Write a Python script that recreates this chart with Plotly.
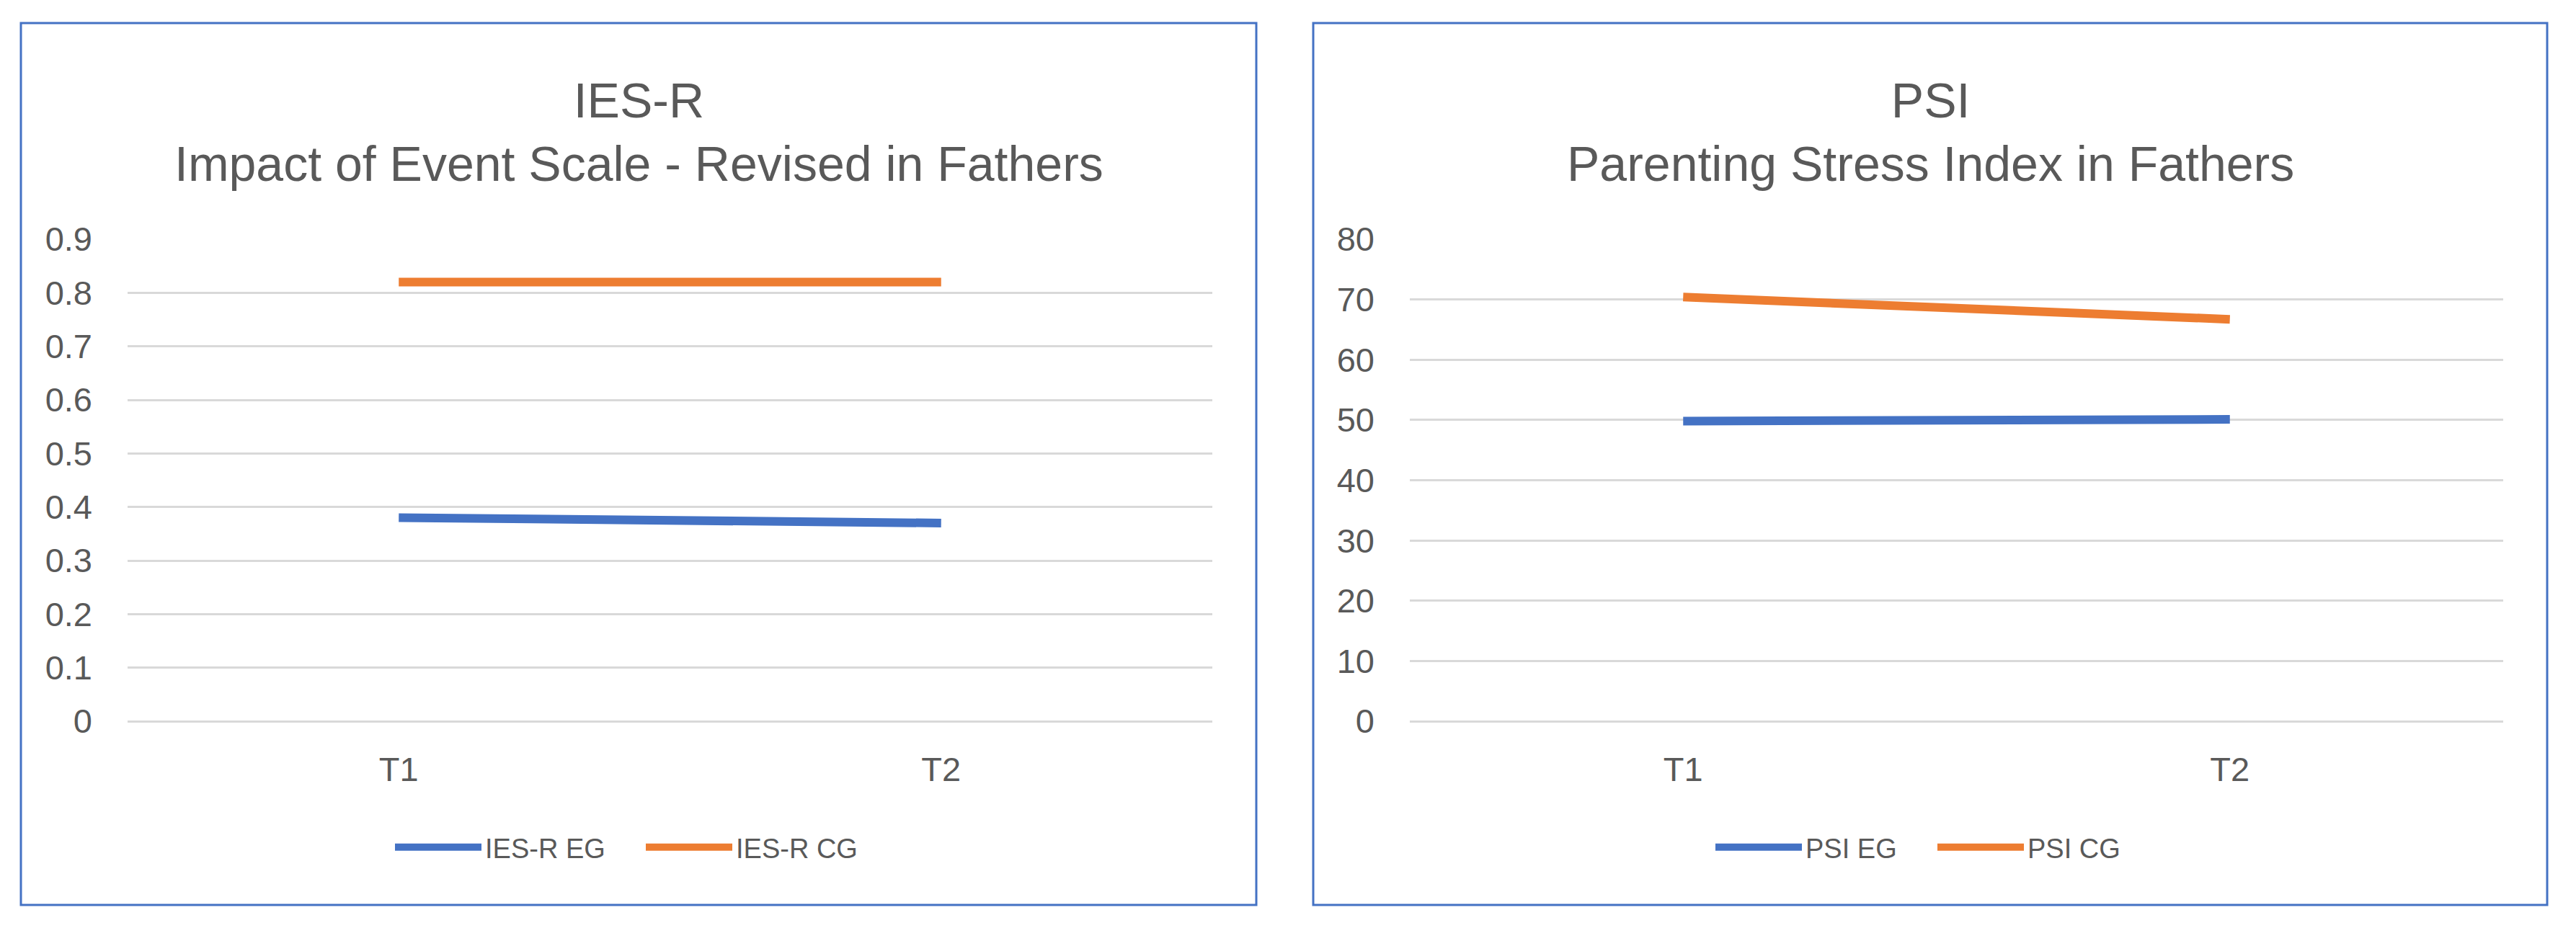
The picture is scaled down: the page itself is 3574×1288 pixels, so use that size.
import plotly.graph_objects as go

# ---- data ----
categories = ["T1", "T2"]

ies_title_1 = "IES-R"
ies_title_2 = "Impact of Event Scale - Revised in Fathers"
ies_eg_name = "IES-R EG"
ies_cg_name = "IES-R CG"
ies_eg = [0.38, 0.37]
ies_cg = [0.82, 0.82]
ies_ticks = [0, 0.1, 0.2, 0.3, 0.4, 0.5, 0.6, 0.7, 0.8, 0.9]
ies_ticktext = ["0", "0.1", "0.2", "0.3", "0.4", "0.5", "0.6", "0.7", "0.8", "0.9"]

psi_title_1 = "PSI"
psi_title_2 = "Parenting Stress Index in Fathers"
psi_eg_name = "PSI EG"
psi_cg_name = "PSI CG"
psi_eg = [49.8, 50.1]
psi_cg = [70.4, 66.7]
psi_ticks = [0, 10, 20, 30, 40, 50, 60, 70, 80]

# ---- styling ----
PAGE_W, PAGE_H = 3574, 1288
OFF = 8  # default body margin of the html page
W, H = PAGE_W - 2 * OFF, PAGE_H - 2 * OFF
FONT = "Liberation Sans, Arial, sans-serif"
TXT = "#595959"
GRID = "#D9D9D9"
BLUE = "#4472C4"
ORANGE = "#ED7D31"
LW = 12


def px(x):
    return (x - OFF) / W


def py(y):
    return 1 - (y - OFF) / H


fig = go.Figure()

fig.add_trace(go.Scatter(x=categories, y=ies_eg, name=ies_eg_name, mode="lines",
                         line=dict(color=BLUE, width=LW), xaxis="x", yaxis="y",
                         legend="legend"))
fig.add_trace(go.Scatter(x=categories, y=ies_cg, name=ies_cg_name, mode="lines",
                         line=dict(color=ORANGE, width=LW), xaxis="x", yaxis="y",
                         legend="legend"))
fig.add_trace(go.Scatter(x=categories, y=psi_eg, name=psi_eg_name, mode="lines",
                         line=dict(color=BLUE, width=LW), xaxis="x2", yaxis="y2",
                         legend="legend2"))
fig.add_trace(go.Scatter(x=categories, y=psi_cg, name=psi_cg_name, mode="lines",
                         line=dict(color=ORANGE, width=LW), xaxis="x2", yaxis="y2",
                         legend="legend2"))

ydom = [py(1001), py(332)]
common_x = dict(type="category", range=[-0.5, 1.5], showgrid=False, zeroline=False,
                showline=False, ticks="outside", ticklen=26, tickcolor="rgba(0,0,0,0)",
                tickfont=dict(family=FONT, size=47, color=TXT), fixedrange=True,
                automargin=False)
common_y = dict(showgrid=True, gridcolor=GRID, gridwidth=3, zeroline=True,
                zerolinecolor=GRID, zerolinewidth=3, showline=False,
                ticklabelstandoff=48, automargin=False,
                tickfont=dict(family=FONT, size=47, color=TXT), fixedrange=True)

legend_common = dict(orientation="h", y=py(1176), xanchor="center", yanchor="middle",
                     font=dict(family=FONT, size=38, color=TXT), itemwidth=120,
                     bgcolor="rgba(0,0,0,0)", tracegroupgap=0)

fig.update_layout(
    width=W, height=H,
    margin=dict(l=0, r=0, t=0, b=0, pad=0, autoexpand=False),
    paper_bgcolor="white", plot_bgcolor="white",
    showlegend=True,
    xaxis=dict(domain=[px(177), px(1682)], anchor="y", **common_x),
    yaxis=dict(domain=ydom, anchor="x", range=[0, 0.9], tickvals=ies_ticks,
               ticktext=ies_ticktext, **common_y),
    xaxis2=dict(domain=[px(1956), px(3473)], anchor="y2", **common_x),
    yaxis2=dict(domain=ydom, anchor="x2", range=[0, 80], tickvals=psi_ticks, **common_y),
    legend=dict(x=px(891), entrywidth=213, **legend_common),
    legend2=dict(x=px(2683), entrywidth=173, **legend_common),
)

# panel borders
for x0, x1 in [(29, 1743), (1822, 3534)]:
    fig.add_shape(type="rect", xref="paper", yref="paper",
                  x0=px(x0), x1=px(x1), y0=py(1256), y1=py(32),
                  line=dict(color=BLUE, width=3), fillcolor="rgba(0,0,0,0)", layer="below")

# titles (two lines)
for cx, t1, t2 in [(886, ies_title_1, ies_title_2), (2678, psi_title_1, psi_title_2)]:
    fig.add_annotation(x=px(cx), y=py(183), xref="paper", yref="paper",
                       text=t1 + "<br>" + t2,
                       showarrow=False, xanchor="center", yanchor="middle", align="center",
                       font=dict(family=FONT, size=68, color=TXT))

fig.write_html("out.html")
